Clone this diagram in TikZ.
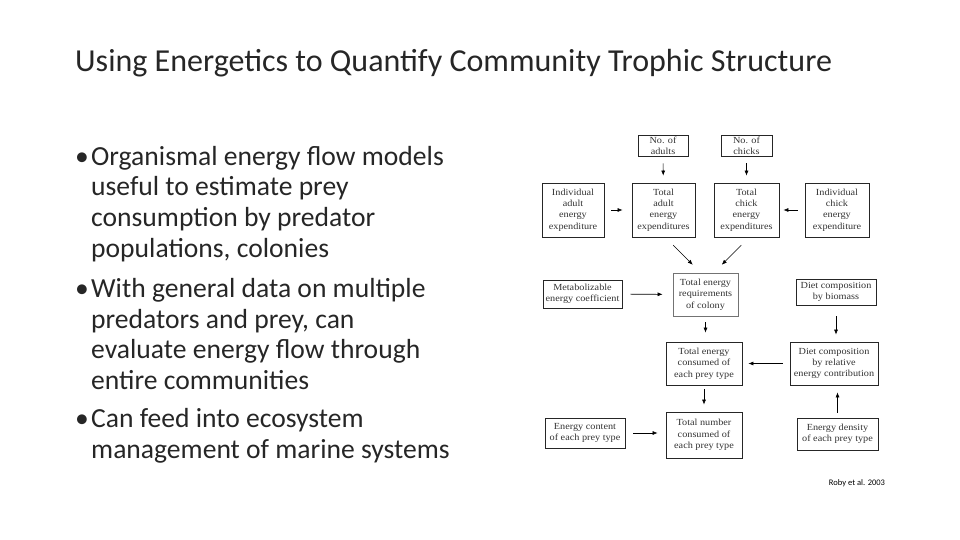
\documentclass[tikz,border=0pt]{standalone}
\usepackage{fontspec}
\setmainfont{Carlito}
\newfontfamily\boxfont{Liberation Serif}[FakeStretch=1.1]
\usetikzlibrary{arrows.meta,calc}

\begin{document}
\begin{tikzpicture}[x=1pt,y=-1pt,
  title/.style={anchor=base west,inner sep=0pt,font=\fontsize{32}{36}\selectfont,text=black!85},
  point/.style={anchor=base west,inner sep=0pt,font=\fontsize{27.6}{30.5}\selectfont,text=black!85},
  box/.style={draw=black!85,line width=0.8pt,align=center,inner sep=1pt,font=\boxfont\fontsize{9.3}{11.3}\selectfont,text=black!80},
  flow/.style={-{Latex[length=5pt,width=4pt]},draw=black,line width=0.6pt},
  cite/.style={inner sep=0pt,font=\fontsize{8.5}{10}\selectfont,text=black},
]
\useasboundingbox (0,0) rectangle (960,540);

\node[title] (ttl) at (75,72) {Using Energetics to Quantify Community Trophic Structure};

% bullet list
\node[point] (pt1) at (75,165.5) {\makebox[16pt][l]{•}\begin{tabular}[t]{@{}l@{}}Organismal energy flow models\\useful to estimate prey\\consumption by predator\\populations, colonies\end{tabular}};
\node[point] (pt2) at (75,297.5) {\makebox[16pt][l]{•}\begin{tabular}[t]{@{}l@{}}With general data on multiple\\predators and prey, can\\evaluate energy flow through\\entire communities\end{tabular}};
\node[point] (pt3) at (75,427.5) {\makebox[16pt][l]{•}\begin{tabular}[t]{@{}l@{}}Can feed into ecosystem\\management of marine systems\end{tabular}};

% energy flow model
\node[box,minimum width=50pt,minimum height=21pt] (adults) at (663,145.5) {No. of\\adults};
\node[box,minimum width=51pt,minimum height=21pt] (chicks) at (746.5,145.5) {No. of\\chicks};

\node[box,minimum width=62pt,minimum height=54pt] (indA) at (573,210) {Individual\\adult\\energy\\expenditure};
\node[box,minimum width=63pt,minimum height=54pt] (totA) at (663.5,210) {Total\\adult\\energy\\expenditures};
\node[box,minimum width=65pt,minimum height=54pt] (totC) at (746.5,210) {Total\\chick\\energy\\expenditures};
\node[box,minimum width=64pt,minimum height=54pt] (indC) at (837,210) {Individual\\chick\\energy\\expenditure};

\node[box,minimum width=79pt,minimum height=28pt] (meta) at (582.5,294) {Metabolizable\\energy coefficient};
\node[box,draw=black!55,minimum width=65pt,minimum height=43pt] (req) at (705.5,294.5) {Total energy\\requirements\\of colony};
\node[box,minimum width=80pt,minimum height=26pt] (bio) at (836,292) {Diet composition\\by biomass};

\node[box,minimum width=76pt,minimum height=43pt] (cons) at (704,363.5) {Total energy\\consumed of\\each prey type};
\node[box,minimum width=88pt,minimum height=43pt] (rel) at (834,363.5) {Diet composition\\by relative\\energy contribution};

\node[box,minimum width=80pt,minimum height=30pt] (cont) at (585,433) {Energy content\\of each prey type};
\node[box,minimum width=76pt,minimum height=46pt] (num) at (704,435) {Total number\\consumed of\\each prey type};
\node[box,minimum width=81pt,minimum height=32pt] (dens) at (837.5,434) {Energy density\\of each prey type};

\draw[flow,shorten <=7pt,shorten >=7pt] (adults) -- (totA);
\draw[flow,shorten <=7pt,shorten >=7pt] (chicks) -- (totC);
\draw[flow,shorten <=7pt,shorten >=9pt] (indA) -- (totA);
\draw[flow,shorten <=7pt,shorten >=4pt] (indC) -- (totC);
\draw[flow,shorten <=11pt,shorten >=11pt] ($(totA.south)+(2,0)$) -- ($(req.north)+(-5,0)$);
\draw[flow,shorten <=11pt,shorten >=11pt] ($(totC.south)+(2.5,0)$) -- ($(req.north)+(8.5,0)$);
\draw[flow,shorten <=8pt,shorten >=10pt] (meta) -- (req);
\draw[flow,shorten <=6pt,shorten >=9pt] (req.south) -- (req.south |- cons.north);
\draw[flow,shorten <=11pt,shorten >=7pt] (bio.south) -- (bio.south |- rel.north);
\draw[flow,shorten <=7pt,shorten >=6pt] (rel) -- (cons);
\draw[flow,shorten <=4pt,shorten >=7pt] (cons) -- (num);
\draw[flow,shorten <=8pt,shorten >=8pt] (cont.east) -- (cont.east -| num.west);
\draw[flow,shorten <=5pt,shorten >=7pt] (dens.north) -- (dens.north |- rel.south);

\node[cite] (src) at (857,483) {Roby et al. 2003};
\end{tikzpicture}
\end{document}
